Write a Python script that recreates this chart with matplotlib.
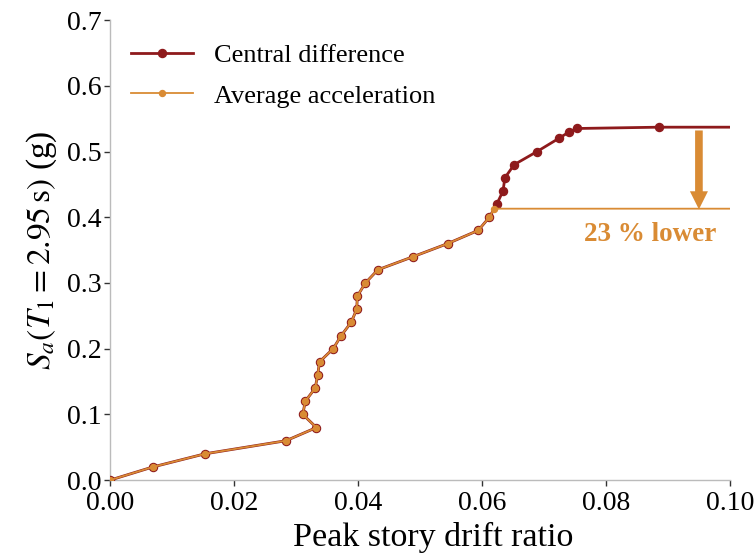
import numpy as np
import matplotlib
matplotlib.use('Agg')
import matplotlib.pyplot as plt

plt.rcParams['font.family'] = ['Liberation Serif', 'DejaVu Serif']
plt.rcParams['mathtext.fontset'] = 'stix'

# shared part of both curves
drift_common = [0.0, 0.0069, 0.0153, 0.0284, 0.0333, 0.0311, 0.0315, 0.0331, 0.0335, 0.0338,
                0.0360, 0.0373, 0.0389, 0.0398, 0.0399, 0.0412, 0.0432, 0.0489, 0.0545, 0.0594, 0.0612]
sa_common = [0.0, 0.02, 0.04, 0.06, 0.08, 0.10, 0.12, 0.14, 0.16, 0.18,
             0.20, 0.22, 0.24, 0.26, 0.28, 0.30, 0.32, 0.34, 0.36, 0.38, 0.40]

# central difference continues
drift_cd = drift_common + [0.0624, 0.0634, 0.0637, 0.0652, 0.0689, 0.0724, 0.0741, 0.0753, 0.0885, 0.10]
sa_cd = sa_common + [0.42, 0.44, 0.46, 0.48, 0.50, 0.52, 0.53, 0.535, 0.537, 0.537]

# average acceleration continues
drift_aa = drift_common + [0.0620, 0.10]
sa_aa = sa_common + [0.413, 0.413]

red = '#8e1a1c'
orange = '#d98b34'

fig = plt.figure(figsize=(7.56, 5.57), dpi=100)
ax = fig.add_axes([0.1455, 0.138, 0.82, 0.826])

ax.plot(drift_cd, sa_cd, '-o', color=red, lw=2.0, ms=5.8, markevery=list(range(len(drift_cd) - 1)),
        label='Central difference', zorder=3)
ax.plot(drift_aa, sa_aa, '-o', color=orange, lw=1.3, ms=4.3, markevery=list(range(len(drift_aa) - 1)),
        label='Average acceleration', zorder=4)

# drop arrow
ax.annotate('', xy=(0.0950, 0.412), xytext=(0.0950, 0.532),
            arrowprops=dict(arrowstyle='simple,head_width=1.3,head_length=1.3,tail_width=0.55',
                            color=orange, lw=0, shrinkA=0, shrinkB=0), zorder=5)
ax.text(0.0871, 0.373, '23 % lower', color=orange, fontsize=19.5, fontweight='bold',
        ha='center', va='center')

ax.set_xlim(0, 0.10)
ax.set_ylim(0, 0.7)
ax.set_xticks(np.linspace(0, 0.10, 6))
ax.set_yticks(np.linspace(0, 0.7, 8))
ax.set_xticklabels(['0.00', '0.02', '0.04', '0.06', '0.08', '0.10'])
ax.set_yticklabels(['0.0', '0.1', '0.2', '0.3', '0.4', '0.5', '0.6', '0.7'])
ax.tick_params(labelsize=20, direction='out', length=4, width=1, color='#333333', pad=2)
ax.tick_params(axis='x', pad=4)

for s in ['top', 'right']:
    ax.spines[s].set_visible(False)
for s in ['left', 'bottom']:
    ax.spines[s].set_color('#bbbbbb')
    ax.spines[s].set_linewidth(1.0)

ax.set_xlabel('Peak story drift ratio', fontsize=24.5, labelpad=4)
ax.xaxis.label.set_x(0.522)
ax.set_ylabel(r'$S_a(T_1 = 2.95\,\mathrm{s})$ (g)', fontsize=24, labelpad=6)

ax.legend(loc='upper left', bbox_to_anchor=(0.0, 0.995), frameon=False, fontsize=19,
          handlelength=2.35, handletextpad=0.8, borderaxespad=0.4, labelspacing=0.65)

fig.savefig('out.png', dpi=100)
